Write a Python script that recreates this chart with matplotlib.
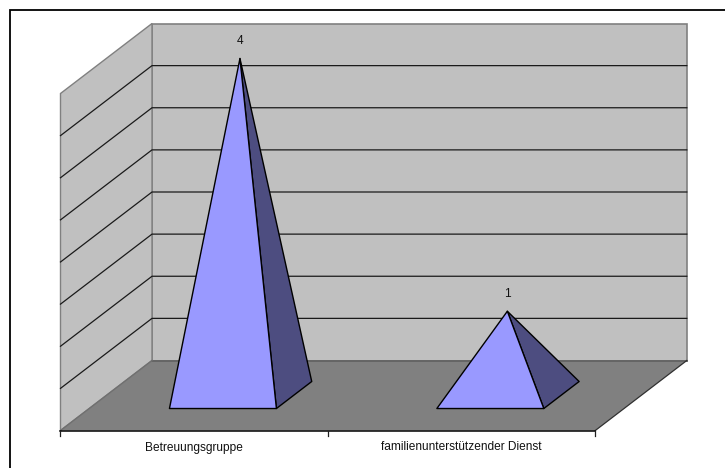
import matplotlib
matplotlib.use("Agg")
import matplotlib.pyplot as plt
from matplotlib.patches import Polygon

categories = ["Betreuungsgruppe", "familienunterstützender Dienst"]
values = [4, 1]
value_ticks = [0.5, 1, 1.5, 2, 2.5, 3, 3.5]
value_max = 4

W, H = 725, 468
plt.rcParams["font.family"] = ["Liberation Sans", "DejaVu Sans"]
fig = plt.figure(figsize=(W / 100, H / 100), dpi=100)
ax = fig.add_axes([0, 0, 1, 1])
ax.set_xlim(0, W)
ax.set_ylim(H, 0)
ax.axis("off")

# oblique projection of the chart's 3D box: category, depth, value
X0, Y0, CAT_W, DX, DY, VAL = 60.5, 430.5, 267.4, 91.5, 70.0, 84.25
def proj(u, d, v=0.0):
    return (X0 + u * CAT_W + d * DX, Y0 - d * DY - v * VAL)

n = len(categories)
GREY, LINE = "#808080", "#1a1a1a"

ax.add_patch(Polygon([proj(0, 1, 0), proj(n, 1, 0), proj(n, 1, value_max), proj(0, 1, value_max)],
                     fc="#C0C0C0", ec=GREY, lw=1.2, zorder=1))
ax.add_patch(Polygon([proj(0, 0, 0), proj(0, 1, 0), proj(0, 1, value_max), proj(0, 0, value_max)],
                     fc="#C0C0C0", ec=GREY, lw=1.0, zorder=1))
ax.add_patch(Polygon([proj(0, 0), proj(n, 0), proj(n, 1), proj(0, 1)],
                     fc=GREY, ec="none", zorder=2))
ax.plot(*zip(proj(0, 1), proj(n, 1)), color="#606060", lw=1.2, zorder=3)
ax.plot(*zip(proj(0, 0), proj(0, 1)), color="#707070", lw=1.0, zorder=3)
ax.plot(*zip(proj(n, 0), proj(n, 1)), color="#303030", lw=0.9, zorder=3)

for v in value_ticks:
    ax.plot(*zip(proj(0, 0, v), proj(0, 1, v), proj(n, 1, v)), color=LINE, lw=0.9, zorder=3)

# category axis
ax.plot(*zip(proj(0, 0), proj(n, 0)), color="black", lw=1.1, zorder=4)
for i in range(n + 1):
    x, y = proj(i, 0)
    ax.plot([x, x], [y, y + 5], color="#202020", lw=0.9, zorder=4)

# pyramids
HW, D0, D1 = 0.2, 0.314, 0.70
for i, (name, val) in enumerate(zip(categories, values)):
    c = i + 0.5
    apex = proj(c, 0.5, val)
    ax.add_patch(Polygon([proj(c + HW, D0), proj(c + HW, D1), apex], fc="#4D4D80", ec="black",
                         lw=1.0, joinstyle="round", zorder=5))
    ax.add_patch(Polygon([proj(c - HW, D0), proj(c + HW, D0), apex], fc="#9999FF", ec="black",
                         lw=1.0, joinstyle="round", zorder=6))
    ax.text(apex[0], apex[1] - 14, str(val), ha="center", va="baseline", fontsize=8.6,
            color="#111111", zorder=7)
    x, y = proj(i + 0.5, 0)
    ax.text(x - 0.5, y + 17, name, ha="center", va="center", fontsize=8.6, color="#111111", zorder=7)

# outer frame, visible on the top and left only
ax.plot([10.5, 10.5, W], [H, 10, 10], color="black", lw=1.3, zorder=8, solid_joinstyle="miter")

fig.savefig("out.png", dpi=100, facecolor="white")
